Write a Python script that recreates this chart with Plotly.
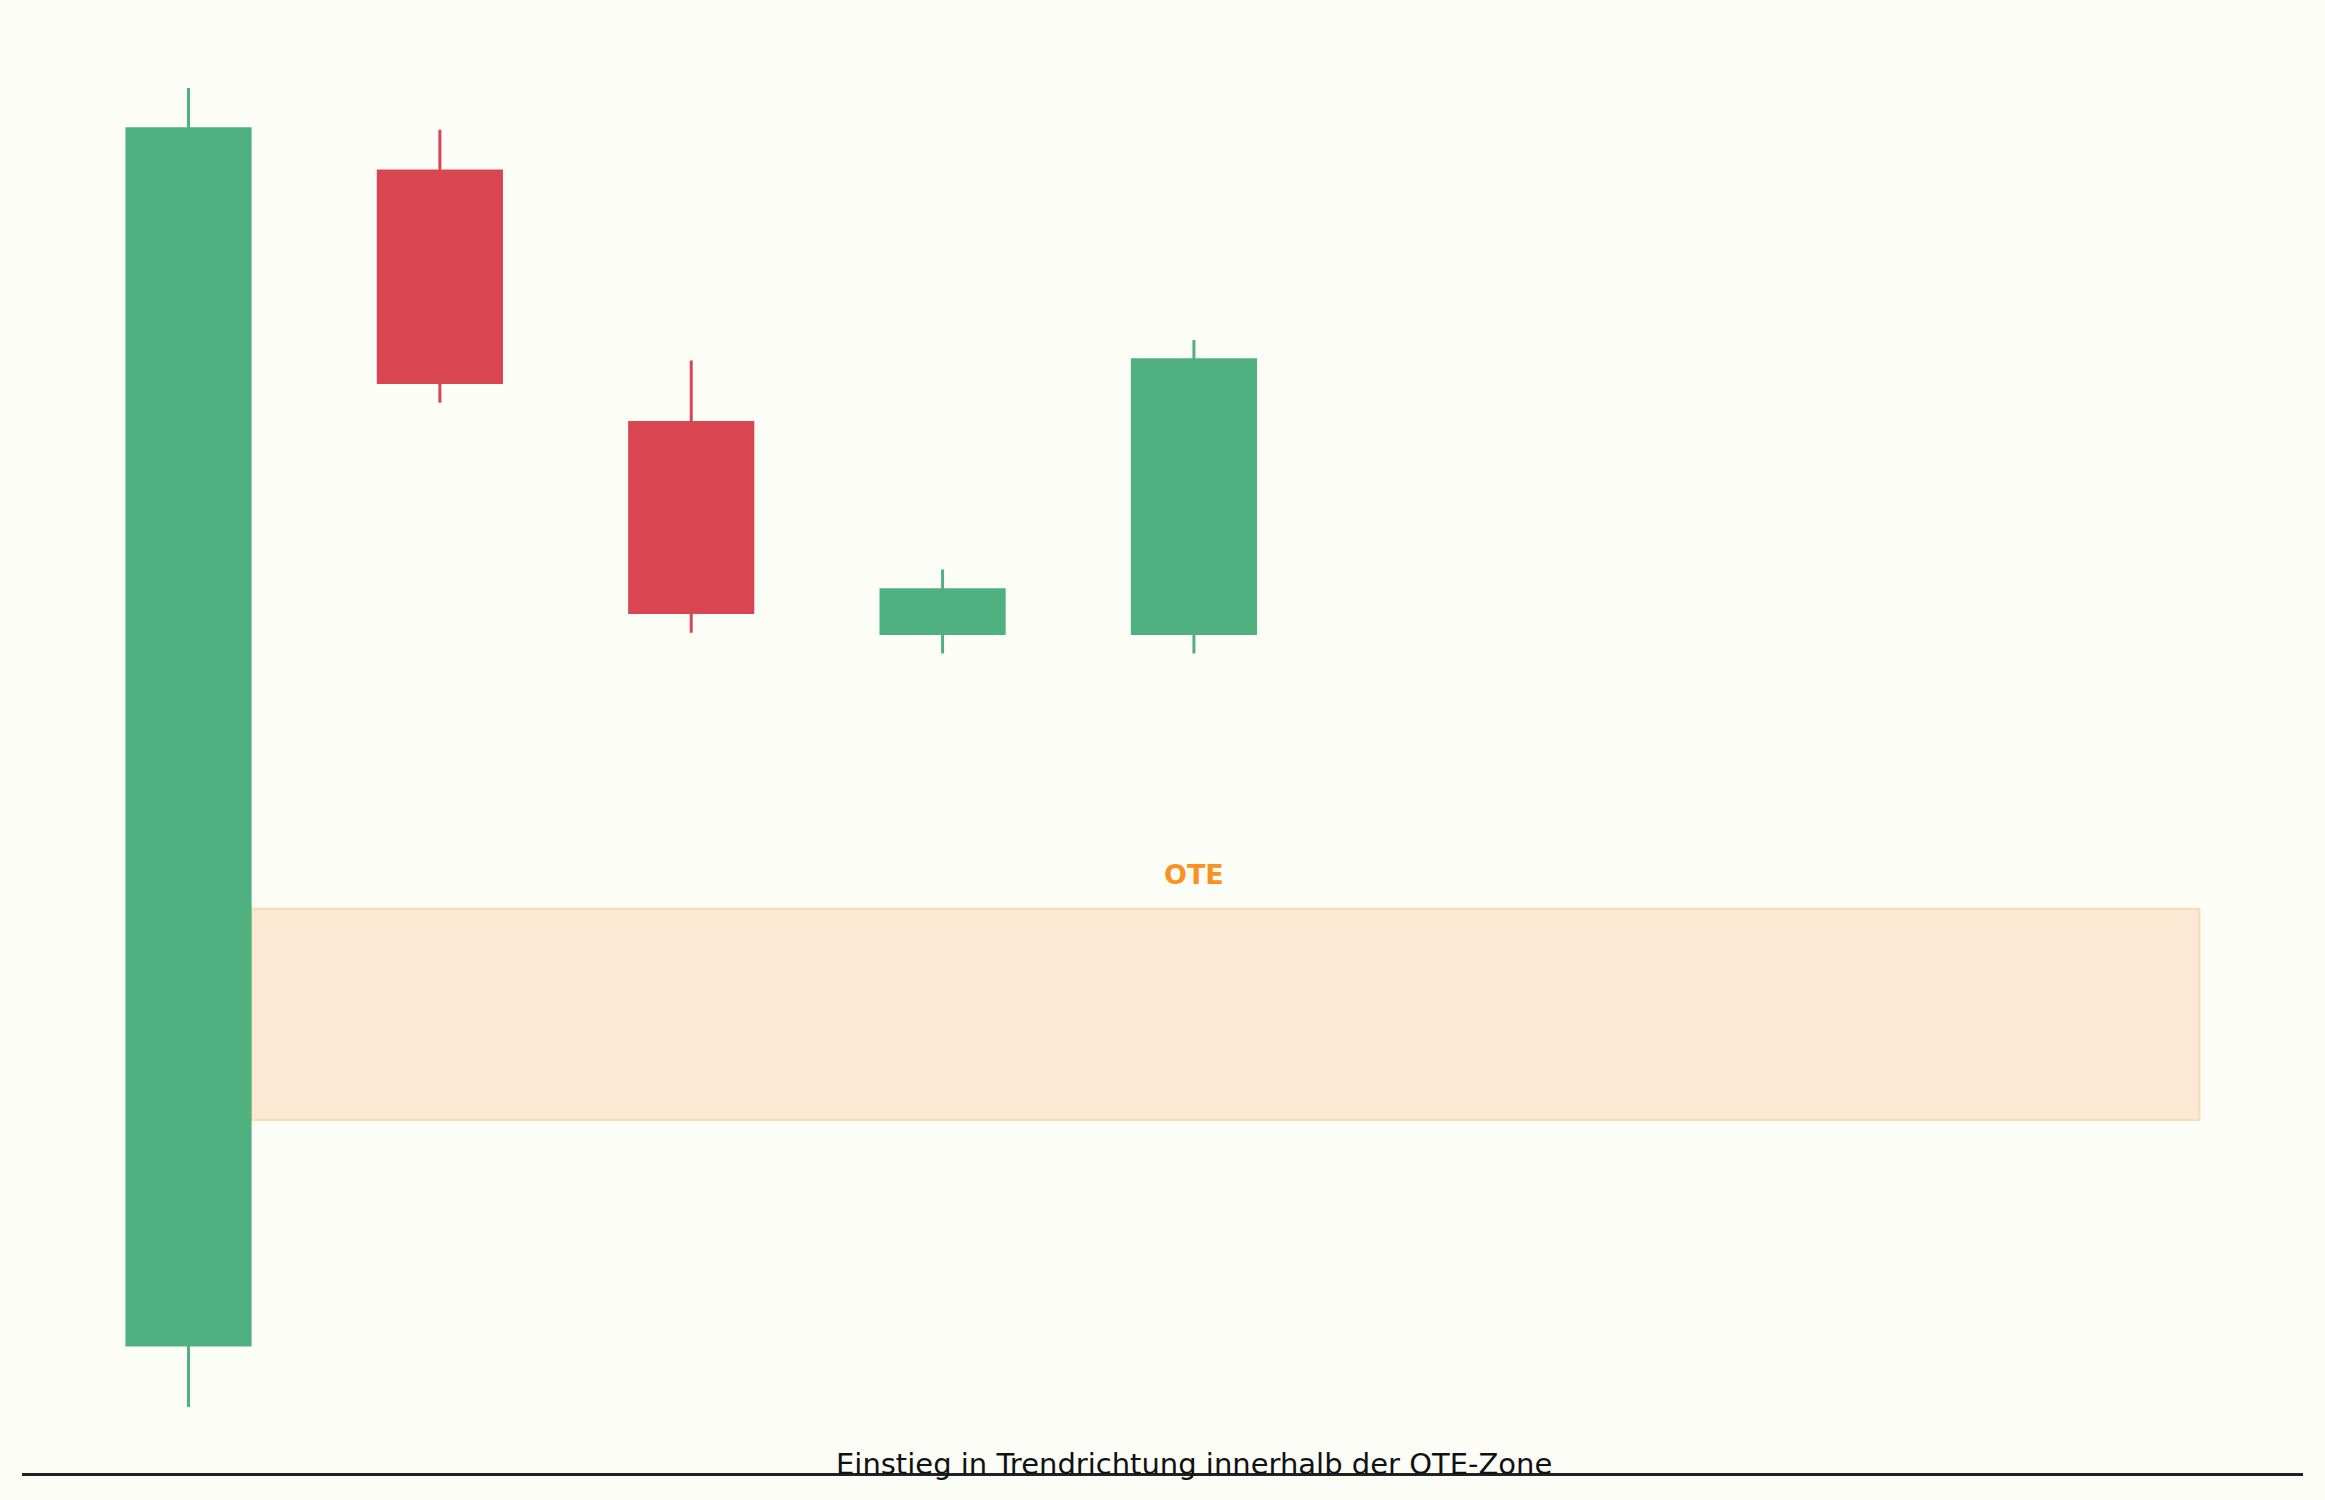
import plotly.graph_objects as go

# Kerzen (Index 0..4) – Werte aus dem Bild geschätzt
x_idx  = [0, 1, 2, 3, 4]
opens  = [101.41, 128.11, 122.39, 117.59, 117.59]
highs  = [130.00, 129.05, 123.80, 119.05, 124.27]
lows   = [100.00, 122.84, 117.61, 117.14, 117.14]
closes = [129.07, 123.30, 118.07, 118.59, 123.82]

# OTE-Zone
ote_x = [0.25, 8.0]
ote_y = [106.53, 111.33]
ote_label_pos = (4.0, 112.12)

caption = "Einstieg in Trendrichtung innerhalb der OTE-Zone"
caption_pos = (4.0, 98.7)

GREEN = "#4fb080"
RED = "#d94652"
ORANGE = "#f7931e"
BG = "#fdfdf8"

fig = go.Figure()

fig.add_trace(go.Candlestick(
    x=x_idx, open=opens, high=highs, low=lows, close=closes,
    increasing=dict(line=dict(color=GREEN, width=3), fillcolor=GREEN),
    decreasing=dict(line=dict(color=RED, width=3), fillcolor=RED),
    whiskerwidth=0, showlegend=False, hoverinfo="skip",
))

fig.add_shape(
    type="rect", xref="x", yref="y",
    x0=ote_x[0], x1=ote_x[1], y0=ote_y[0], y1=ote_y[1],
    fillcolor="#fbe9d4", line=dict(color="#fcdab4", width=2), layer="below",
)

fig.add_annotation(
    x=ote_label_pos[0], y=ote_label_pos[1],
    text="<b>OTE</b>", showarrow=False, xanchor="center", yanchor="middle",
    font=dict(family="DejaVu Sans", size=27, color=ORANGE),
)
fig.add_annotation(
    x=caption_pos[0], y=caption_pos[1], text=caption, showarrow=False,
    xanchor="center", yanchor="middle",
    font=dict(family="DejaVu Sans", size=29, color="#111111"),
)

fig.update_layout(
    width=2325, height=1500,
    margin=dict(l=22, r=22, t=22, b=27),
    paper_bgcolor=BG, plot_bgcolor=BG,
    boxgap=0.3,
    xaxis=dict(
        range=[-0.6625, 8.4125], rangeslider=dict(visible=False),
        showgrid=False, zeroline=False, showticklabels=False, ticks="",
        showline=True, linecolor="#222222", linewidth=2.5,
    ),
    yaxis=dict(
        range=[98.5, 131.5], visible=False, showgrid=False, zeroline=False,
    ),
)

# Seitenrand entfernen, damit die Grafik bei (0,0) beginnt
fig.write_html(
    "out.html",
    config={"displayModeBar": False},
    post_script="document.body.style.margin='0';"
                "document.body.style.background='" + BG + "';"
                "document.body.style.overflow='hidden';",
)
